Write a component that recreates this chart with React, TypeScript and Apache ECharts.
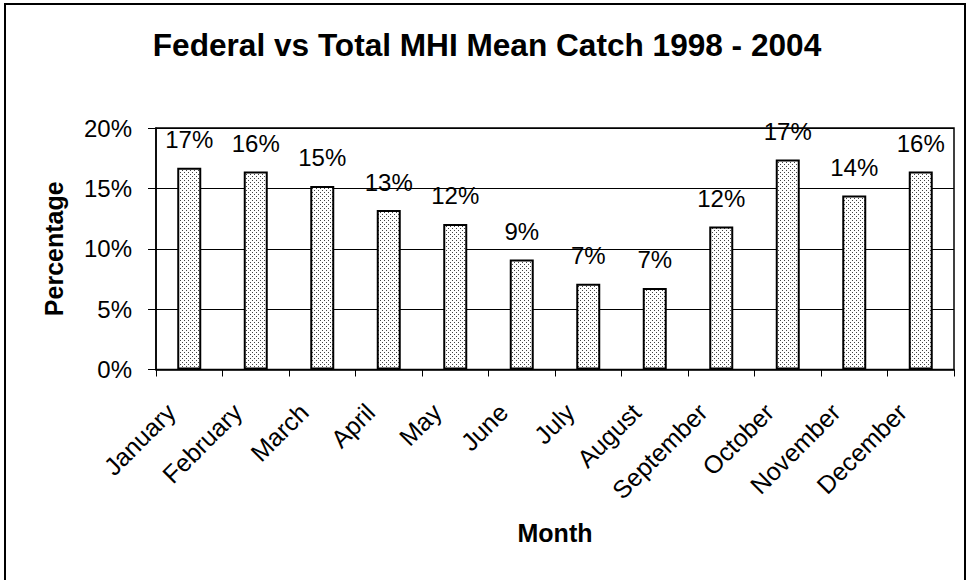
import React, { useEffect, useRef } from 'react';
import * as echarts from 'echarts';

const months = ['January', 'February', 'March', 'April', 'May', 'June', 'July', 'August', 'September', 'October', 'November', 'December'];
const percentages = [16.7, 16.4, 15.2, 13.2, 12.05, 9.1, 7.1, 6.75, 11.85, 17.4, 14.4, 16.4];
const yMin = 0;
const yMax = 20;
const yStep = 5;
const titleText = 'Federal vs Total MHI Mean Catch 1998 - 2004';
const xAxisName = 'Month';
const yAxisName = 'Percentage';

const FONT = '"Liberation Sans", Arial, Helvetica, sans-serif';

export default function App() {
  const ref = useRef<HTMLDivElement>(null);
  useEffect(() => {
    const canvas = document.createElement('canvas');
    canvas.width = 4;
    canvas.height = 4;
    const ctx = canvas.getContext('2d')!;
    ctx.fillStyle = '#ffffff';
    ctx.fillRect(0, 0, 4, 4);
    ctx.fillStyle = '#444444';
    ctx.fillRect(0, 0, 1, 1);
    ctx.fillRect(2, 2, 1, 1);

    const chart = echarts.init(ref.current!, null, { renderer: 'svg' });
    chart.setOption({
      animation: false,
      backgroundColor: '#ffffff',
      title: {
        text: titleText,
        left: 487,
        textAlign: 'center',
        top: 28.5,
        padding: 0,
        textStyle: { fontFamily: FONT, fontSize: 31.6, fontWeight: 'bold', color: '#000' },
      },
      graphic: [
        {
          type: 'rect',
          shape: { x: 5, y: 4, width: 960, height: 600 },
          style: { fill: 'none', stroke: '#000', lineWidth: 2 },
          silent: true,
        },
      ],
      grid: {
        left: 156,
        right: 13,
        top: 128,
        bottom: 210.5,
        show: true,
        borderColor: '#000',
        borderWidth: 1.5,
        backgroundColor: '#fff',
        containLabel: false,
      },
      xAxis: {
        type: 'category',
        data: months,
        name: xAxisName,
        nameLocation: 'middle',
        nameGap: 151,
        nameTextStyle: { fontFamily: FONT, fontSize: 25, fontWeight: 'bold', color: '#000' },
        axisLine: { show: true, lineStyle: { color: '#000', width: 1.5 } },
        axisTick: { show: true, length: 7, lineStyle: { color: '#000', width: 1 } },
        axisLabel: {
          rotate: 45,
          interval: 0,
          margin: 20,
          padding: [0, 26, 0, 0],
          fontFamily: FONT,
          fontSize: 25,
          color: '#000',
        },
        splitLine: { show: false },
      },
      yAxis: {
        type: 'value',
        min: yMin,
        max: yMax,
        interval: yStep,
        name: yAxisName,
        nameLocation: 'middle',
        nameRotate: 90,
        nameGap: 90,
        nameTextStyle: { fontFamily: FONT, fontSize: 25, fontWeight: 'bold', color: '#000' },
        axisLine: { show: true, lineStyle: { color: '#000', width: 1.5 } },
        axisTick: { show: true, length: 8, lineStyle: { color: '#000', width: 1 } },
        axisLabel: {
          formatter: '{value}%',
          margin: 24,
          fontFamily: FONT,
          fontSize: 24,
          color: '#000',
        },
        splitLine: { show: true, lineStyle: { color: '#000', width: 1 } },
      },
      series: [
        {
          type: 'bar',
          data: percentages,
          barWidth: 24,
          itemStyle: {
            color: { image: canvas, repeat: 'repeat' },
            borderColor: '#000',
            borderWidth: 2,
          },
          label: {
            show: true,
            position: 'top',
            distance: 16,
            formatter: (p: any) => Math.round(p.value) + '%',
            fontFamily: FONT,
            fontSize: 24,
            color: '#000',
          },
        },
      ],
    });
    return () => chart.dispose();
  }, []);
  return (
    <div
      ref={ref}
      style={{ position: 'fixed', left: 0, top: 0, width: 967, height: 580, background: '#fff' }}
    />
  );
}
